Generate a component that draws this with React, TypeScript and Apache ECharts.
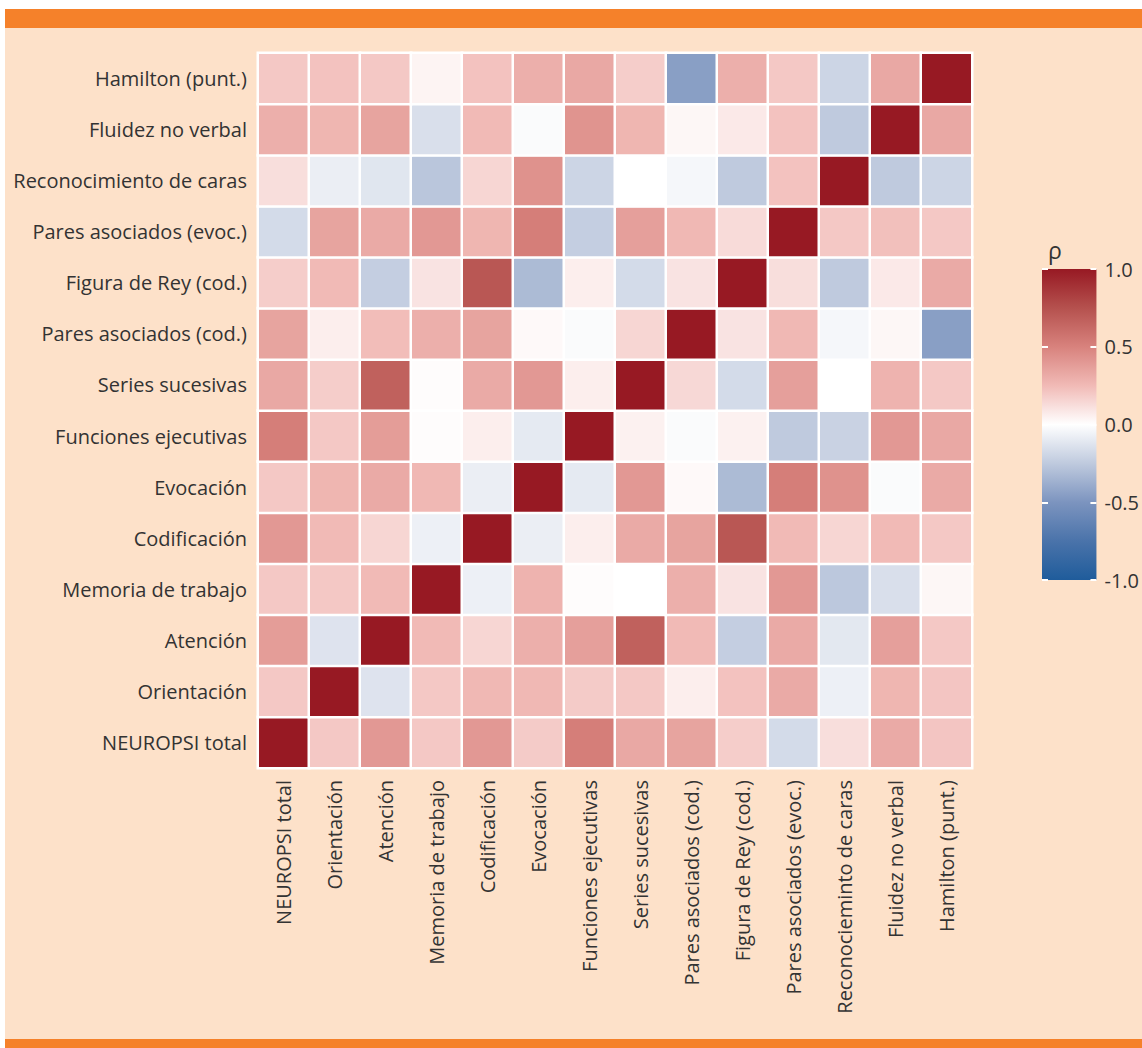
import React, { useEffect, useRef } from "react";
import * as echarts from "echarts";

// Variables (x-axis order, left to right)
const xLabels = [
  "NEUROPSI total",
  "Orientación",
  "Atención",
  "Memoria de trabajo",
  "Codificación",
  "Evocación",
  "Funciones ejecutivas",
  "Series sucesivas",
  "Pares asociados (cod.)",
  "Figura de Rey (cod.)",
  "Pares asociados (evoc.)",
  "Reconocieminto de caras",
  "Fluidez no verbal",
  "Hamilton (punt.)",
];

// y-axis order, bottom to top
const yLabels = [
  "NEUROPSI total",
  "Orientación",
  "Atención",
  "Memoria de trabajo",
  "Codificación",
  "Evocación",
  "Funciones ejecutivas",
  "Series sucesivas",
  "Pares asociados (cod.)",
  "Figura de Rey (cod.)",
  "Pares asociados (evoc.)",
  "Reconocimiento de caras",
  "Fluidez no verbal",
  "Hamilton (punt.)",
];

// Correlation rows (values along the x order), bottom row first
const rowNeuropsi = [1, 0.2, 0.4, 0.2, 0.4, 0.19, 0.52, 0.33, 0.35, 0.18, -0.17, 0.12, 0.32, 0.21];
const rowOrientacion = [0.2, 1, -0.13, 0.2, 0.26, 0.26, 0.19, 0.2, 0.06, 0.22, 0.32, -0.07, 0.27, 0.21];
const rowAtencion = [0.38, -0.13, 1, 0.25, 0.15, 0.3, 0.37, 0.67, 0.25, -0.23, 0.32, -0.11, 0.37, 0.2];
const rowMemoria = [0.2, 0.2, 0.25, 1, -0.07, 0.28, 0.01, 0.0, 0.3, 0.1, 0.4, -0.26, -0.15, 0.03];
const rowCodificacion = [0.4, 0.25, 0.15, -0.07, 1, -0.08, 0.06, 0.32, 0.35, 0.72, 0.25, 0.15, 0.25, 0.2];
const rowEvocacion = [0.2, 0.27, 0.32, 0.26, -0.08, 1, -0.1, 0.4, 0.02, -0.32, 0.52, 0.43, -0.02, 0.32];
const rowFunciones = [0.52, 0.2, 0.38, 0.01, 0.06, -0.1, 1, 0.05, -0.02, 0.05, -0.25, -0.21, 0.4, 0.33];
const rowSeries = [0.33, 0.18, 0.67, 0.01, 0.32, 0.4, 0.06, 1, 0.14, -0.17, 0.37, 0.0, 0.28, 0.2];
const rowParesCod = [0.35, 0.06, 0.24, 0.3, 0.35, 0.02, -0.02, 0.15, 1, 0.1, 0.26, -0.04, 0.03, -0.45];
const rowFiguraRey = [0.18, 0.25, -0.23, 0.1, 0.72, -0.32, 0.06, -0.17, 0.1, 1, 0.12, -0.25, 0.08, 0.32];
const rowParesEvoc = [-0.17, 0.35, 0.32, 0.4, 0.27, 0.52, -0.23, 0.37, 0.26, 0.13, 1, 0.2, 0.23, 0.2];
const rowReconocimiento = [0.12, -0.08, -0.12, -0.27, 0.15, 0.43, -0.2, 0.0, -0.04, -0.25, 0.22, 1, -0.25, -0.2];
const rowFluidez = [0.3, 0.27, 0.35, -0.15, 0.25, -0.02, 0.42, 0.27, 0.03, 0.08, 0.22, -0.25, 1, 0.33];
const rowHamilton = [0.2, 0.22, 0.2, 0.04, 0.22, 0.3, 0.33, 0.18, -0.45, 0.3, 0.2, -0.2, 0.33, 1];

const rows = [
  rowNeuropsi,
  rowOrientacion,
  rowAtencion,
  rowMemoria,
  rowCodificacion,
  rowEvocacion,
  rowFunciones,
  rowSeries,
  rowParesCod,
  rowFiguraRey,
  rowParesEvoc,
  rowReconocimiento,
  rowFluidez,
  rowHamilton,
];

// Colour scale from -1 to 1 (evenly spaced)
const scaleColors = [
  "#1f5c9b",
  "#4a73aa",
  "#7c94bf",
  "#bfcade",
  "#ffffff",
  "#f1bab6",
  "#d8827d",
  "#b5514e",
  "#971923",
];
const colorbarTicks = [-1, -0.5, 0, 0.5, 1];

const FONT = "'Open Sans', Lato, sans-serif";
const TEXT = "#333333";

export default function App() {
  const ref = useRef<HTMLDivElement>(null);

  useEffect(() => {
    if (!ref.current) return;
    const chart = echarts.init(ref.current, undefined, { renderer: "svg" });

    const data: number[][] = [];
    rows.forEach((row, yi) => {
      row.forEach((v, xi) => data.push([xi, yi, v]));
    });

    const gradStops = scaleColors
      .slice()
      .reverse()
      .map((c, i) => ({ offset: i / (scaleColors.length - 1), color: c }));

    const option: any = {
      animation: false,
      backgroundColor: "#ffffff",
      textStyle: { fontFamily: FONT },
      graphic: [
        { type: "rect", z: 0, shape: { x: 5, y: 28, width: 1137, height: 1011 }, style: { fill: "#fde1c9" } },
        { type: "rect", z: 0, shape: { x: 5, y: 9, width: 1137, height: 19 }, style: { fill: "#f5812a" } },
        { type: "rect", z: 0, shape: { x: 5, y: 1039, width: 1137, height: 9 }, style: { fill: "#f5812a" } },
      ],
      grid: [
        { left: 258, top: 53, width: 714, height: 715, containLabel: false },
        { left: 1042, top: 269, width: 58, height: 311, containLabel: false },
      ],
      xAxis: [
        {
          type: "category",
          gridIndex: 0,
          data: xLabels,
          axisLine: { show: false },
          axisTick: { show: false },
          splitLine: { show: false },
          axisLabel: {
            rotate: 90,
            interval: 0,
            margin: 12,
            fontSize: 20,
            color: TEXT,
            fontFamily: FONT,
          },
        },
        {
          type: "value",
          gridIndex: 1,
          min: 0,
          max: 1,
          show: false,
        },
      ],
      yAxis: [
        {
          type: "category",
          gridIndex: 0,
          data: yLabels,
          axisLine: { show: false },
          axisTick: { show: false },
          splitLine: { show: false },
          axisLabel: {
            interval: 0,
            margin: 11,
            fontSize: 20,
            color: TEXT,
            fontFamily: FONT,
          },
        },
        {
          type: "value",
          gridIndex: 1,
          position: "left",
          min: -1,
          max: 1,
          interval: 0.5,
          z: 5,
          name: "ρ",
          nameLocation: "end",
          nameGap: 8,
          nameTextStyle: { fontSize: 23, color: TEXT, align: "left", padding: [0, 0, 0, 6], fontFamily: FONT },
          axisLine: { show: false },
          splitLine: { show: false },
          axisLabel: { show: false },
          axisTick: { show: true, inside: true, length: 6, lineStyle: { color: "#ffffff", width: 2 } },
        },
        {
          type: "value",
          gridIndex: 1,
          position: "right",
          min: -1,
          max: 1,
          interval: 0.5,
          z: 5,
          axisLine: { show: false },
          splitLine: { show: false },
          axisLabel: {
            margin: 8,
            fontSize: 20,
            color: TEXT,
            fontFamily: FONT,
            formatter: (v: number) => v.toFixed(1),
            customValues: colorbarTicks,
          },
          axisTick: { show: true, inside: true, length: 6, lineStyle: { color: "#ffffff", width: 2 } },
        },
      ],
      visualMap: {
        type: "continuous",
        show: false,
        min: -1,
        max: 1,
        seriesIndex: 0,
        inRange: { color: scaleColors },
      },
      series: [
        {
          type: "heatmap",
          xAxisIndex: 0,
          yAxisIndex: 0,
          data,
          itemStyle: { borderColor: "#ffffff", borderWidth: 2.5 },
          emphasis: { disabled: true },
        },
        {
          type: "custom",
          xAxisIndex: 1,
          yAxisIndex: 1,
          z: 1,
          data: [[0, 1]],
          renderItem: (_params: any, api: any) => {
            const tl = api.coord([0, 1]);
            const br = api.coord([1, -1]);
            return {
              type: "rect",
              shape: { x: tl[0], y: tl[1], width: br[0] - tl[0], height: br[1] - tl[1] },
              style: { fill: new echarts.graphic.LinearGradient(0, 0, 0, 1, gradStops) },
            };
          },
        },
      ],
    };

    chart.setOption(option);
    return () => chart.dispose();
  }, []);

  return (
    <div
      ref={ref}
      style={{ position: "absolute", left: 0, top: 0, width: 1142, height: 1048 }}
    />
  );
}
